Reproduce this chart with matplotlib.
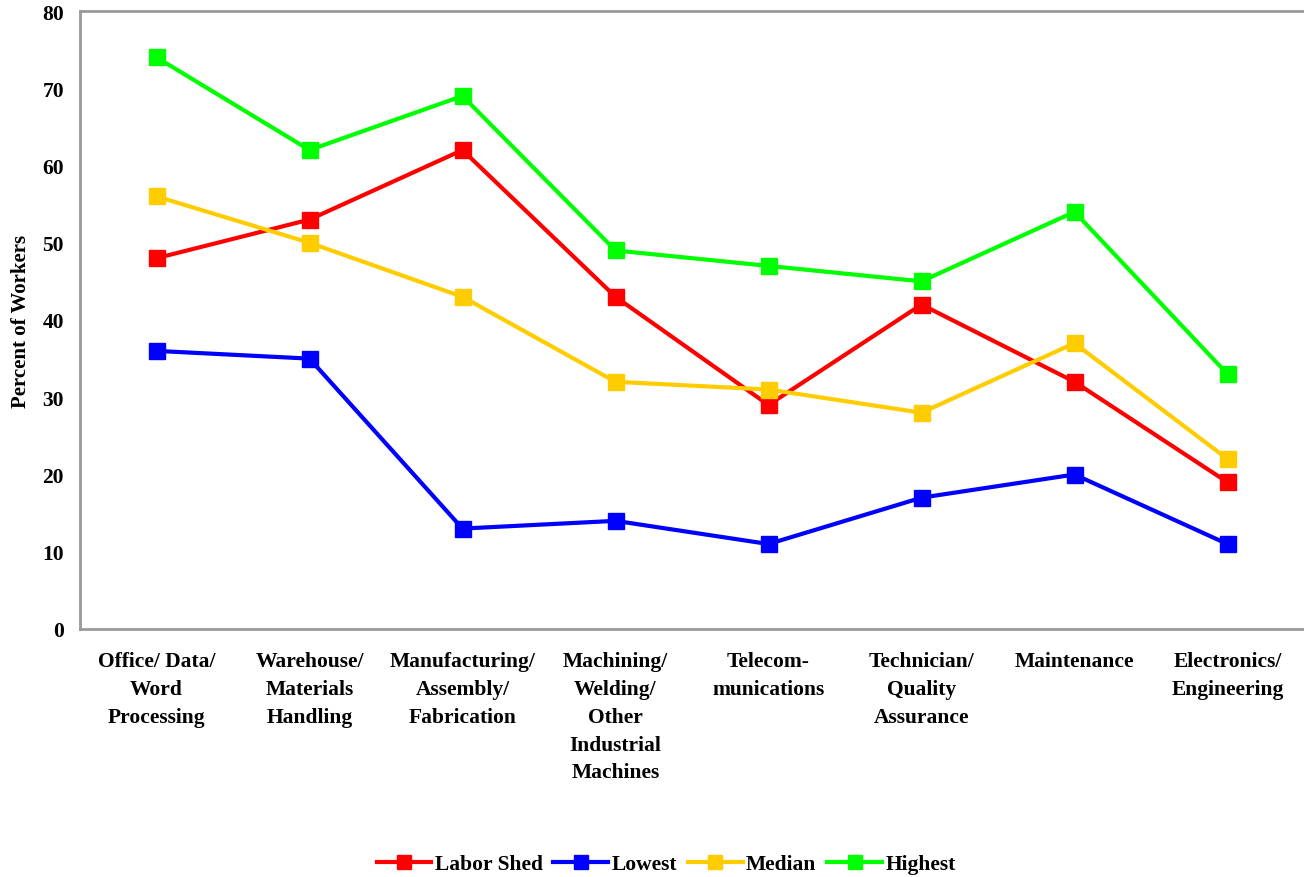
import matplotlib
matplotlib.use("Agg")
import matplotlib.pyplot as plt

categories = ["Office/ Data/\nWord\nProcessing", "Warehouse/\nMaterials\nHandling",
              "Manufacturing/\nAssembly/\nFabrication", "Machining/\nWelding/\nOther\nIndustrial\nMachines",
              "Telecom-\nmunications", "Technician/\nQuality\nAssurance", "Maintenance",
              "Electronics/\nEngineering"]
labor_shed = [48, 53, 62, 43, 29, 42, 32, 19]
lowest = [36, 35, 13, 14, 11, 17, 20, 11]
median = [56, 50, 43, 32, 31, 28, 37, 22]
highest = [74, 62, 69, 49, 47, 45, 54, 33]
yticks = [0, 10, 20, 30, 40, 50, 60, 70, 80]

plt.rcParams['font.family'] = ['Liberation Serif', 'DejaVu Serif']
plt.rcParams['font.weight'] = 'bold'

fig = plt.figure(figsize=(13.04, 8.78), dpi=100)
ax = fig.add_axes([80/1304, 1-630/878, 1-80/1304, (630-12)/878])

x = list(range(len(categories)))
series = [("Labor Shed", labor_shed, "#FF0000"), ("Lowest", lowest, "#0000FF"),
          ("Median", median, "#FFCC00"), ("Highest", highest, "#00FF00")]
for name, vals, col in series:
    ax.plot(x, vals, color=col, lw=3, marker='s', markersize=11, label=name)

ax.set_xlim(-0.5, 7.5)
ax.set_ylim(0, 80)
ax.set_yticks(yticks)
ax.set_yticklabels([str(v) for v in yticks], fontsize=15.5, fontweight='bold')
ax.set_xticks(x)
ax.set_xticklabels(categories, fontsize=15.5, fontweight='bold', linespacing=1.52, va='top')
ax.tick_params(axis='both', length=0)
ax.tick_params(axis='y', pad=11.5)
ax.tick_params(axis='x', pad=16)
for s in ['left', 'top', 'bottom']:
    ax.spines[s].set_color('#999999')
    ax.spines[s].set_linewidth(2)
ax.spines['right'].set_visible(False)
ax.set_ylabel("Percent of Workers", fontsize=15, fontweight='bold')
ax.yaxis.set_label_coords(-49/1224, 0.5)

leg = fig.legend(loc='center', bbox_to_anchor=(666/1304, 1-865/878), ncol=4, frameon=False,
                 prop={'size': 15.5, 'weight': 'bold'}, handlelength=2.55, handletextpad=0.15,
                 columnspacing=0.5, markerscale=0.9)
fig.savefig("out.png", dpi=100)
